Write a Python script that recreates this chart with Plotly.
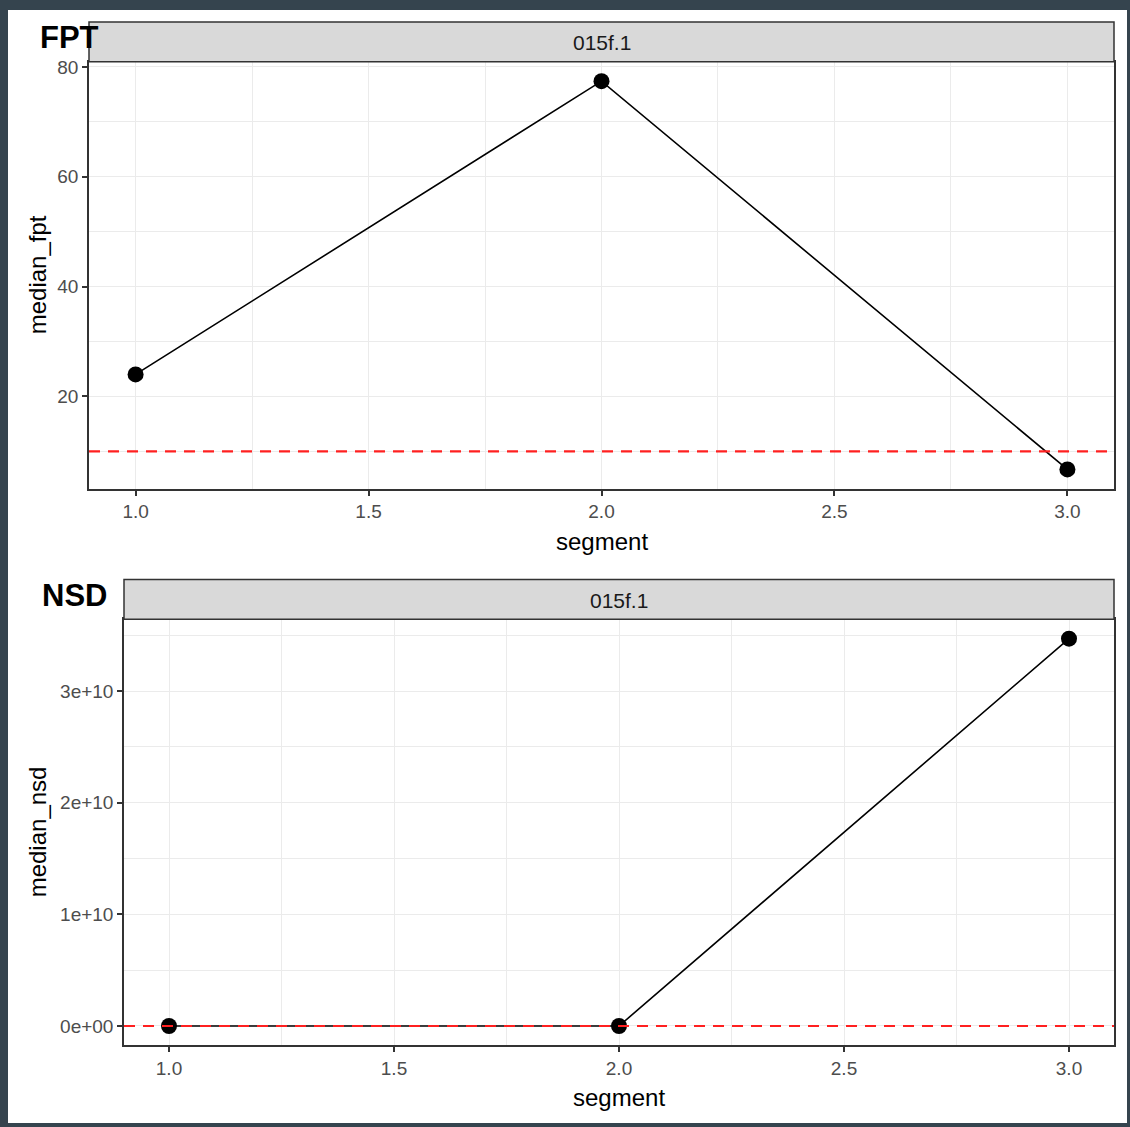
import plotly.graph_objects as go

# ---- data ----
segment = [1.0, 2.0, 3.0]
median_fpt = [24.0, 77.4, 6.7]
median_nsd = [0.0, 0.0, 3.47e10]
fpt_threshold = 10
nsd_threshold = 0
facet_label = "015f.1"
x_ticks = [1.0, 1.5, 2.0, 2.5, 3.0]
x_ticktext = ["1.0", "1.5", "2.0", "2.5", "3.0"]
fpt_ticks = [20, 40, 60, 80]
nsd_ticks = [0, 1e10, 2e10, 3e10]
nsd_ticktext = ["0e+00", "1e+10", "2e+10", "3e+10"]

W, H = 1130, 1127


def px(x):
    return x / W


def py(y):
    return 1 - y / H


def expand(vals, m=0.05):
    lo, hi = min(vals), max(vals)
    d = (hi - lo) * m
    return [lo - d, hi + d]


x_range = expand(segment)
fpt_range = expand(median_fpt + [fpt_threshold])
nsd_range = expand(median_nsd + [nsd_threshold])

FONT = "Liberation Sans, Arial, sans-serif"
GRID = "#ebebeb"
BORDER = "#333333"
TICKSIZE = 19
TITLESIZE = 24

fig = go.Figure()
fig.add_trace(go.Scatter(x=segment, y=median_fpt, mode="lines+markers",
                         line=dict(color="black", width=1.6),
                         marker=dict(color="black", size=16),
                         xaxis="x", yaxis="y", showlegend=False))
fig.add_trace(go.Scatter(x=segment, y=median_nsd, mode="lines+markers",
                         line=dict(color="black", width=1.6),
                         marker=dict(color="black", size=16),
                         xaxis="x2", yaxis="y2", showlegend=False))

common_x = dict(range=x_range, tickvals=x_ticks, ticktext=x_ticktext,
                showgrid=True, gridcolor=GRID, gridwidth=1.3,
                minor=dict(dtick=0.25, tick0=1.0, showgrid=True, gridcolor=GRID, gridwidth=0.8, ticklen=0),
                showline=True, mirror=True, linecolor=BORDER, linewidth=1.5,
                ticks="outside", ticklen=5, tickcolor=BORDER, tickwidth=1.5,
                tickfont=dict(family=FONT, size=TICKSIZE, color="#4d4d4d"),
                zeroline=False)
common_y = dict(showgrid=True, gridcolor=GRID, gridwidth=1.3,
                showline=True, mirror=True, linecolor=BORDER, linewidth=1.5,
                ticks="outside", ticklen=5, tickcolor=BORDER, tickwidth=1.5,
                tickfont=dict(family=FONT, size=TICKSIZE, color="#4d4d4d"),
                zeroline=False)

fig.update_layout(
    width=W, height=H,
    margin=dict(l=0, r=0, t=0, b=0),
    paper_bgcolor="#35444e",
    plot_bgcolor="white",
    xaxis=dict(domain=[px(89), px(1114)], anchor="y", **common_x),
    yaxis=dict(domain=[py(486), py(57)], anchor="x", range=fpt_range,
               tickvals=fpt_ticks,
               minor=dict(dtick=10, tick0=0, showgrid=True, gridcolor=GRID, gridwidth=0.8, ticklen=0),
               **common_y),
    xaxis2=dict(domain=[px(124), px(1114)], anchor="y2", **common_x),
    yaxis2=dict(domain=[py(1045), py(617)], anchor="x2", range=nsd_range,
                tickvals=nsd_ticks, ticktext=nsd_ticktext,
                minor=dict(dtick=5e9, tick0=0, showgrid=True, gridcolor=GRID, gridwidth=0.8, ticklen=0),
                **common_y),
)

shapes = [
    dict(type="rect", xref="paper", yref="paper", x0=px(8), x1=px(1127), y0=py(1123), y1=py(5),
         fillcolor="white", line=dict(width=0), layer="below"),
    # strips
    dict(type="rect", xref="x domain", yref="paper", x0=0, x1=1, y0=py(57), y1=py(17),
         fillcolor="#d9d9d9", line=dict(color=BORDER, width=1.5)),
    dict(type="rect", xref="x2 domain", yref="paper", x0=0, x1=1, y0=py(617), y1=py(577),
         fillcolor="#d9d9d9", line=dict(color=BORDER, width=1.5)),
    # thresholds
    dict(type="line", xref="x domain", yref="y", x0=0, x1=1, y0=fpt_threshold, y1=fpt_threshold,
         line=dict(color="#ff2020", width=2.2, dash="11px,8px")),
    dict(type="line", xref="x2 domain", yref="y2", x0=0, x1=1, y0=nsd_threshold, y1=nsd_threshold,
         line=dict(color="#ff2020", width=2.2, dash="11px,8px")),
]
fig.update_layout(shapes=shapes)

ann = [
    dict(text=facet_label, xref="x domain", yref="paper", x=0.5, y=py(38), showarrow=False,
         font=dict(family=FONT, size=21, color="#1a1a1a"), xanchor="center", yanchor="middle"),
    dict(text=facet_label, xref="x2 domain", yref="paper", x=0.5, y=py(598), showarrow=False,
         font=dict(family=FONT, size=21, color="#1a1a1a"), xanchor="center", yanchor="middle"),
    dict(text="<b>FPT</b>", xref="paper", yref="paper", x=px(38), y=py(33), showarrow=False,
         font=dict(family=FONT, size=31, color="black"), xanchor="left", yanchor="middle"),
    dict(text="<b>NSD</b>", xref="paper", yref="paper", x=px(40), y=py(593), showarrow=False,
         font=dict(family=FONT, size=31, color="black"), xanchor="left", yanchor="middle"),
    dict(text="median_fpt", xref="paper", yref="y domain", x=px(37), y=0.5, textangle=-90, showarrow=False,
         font=dict(family=FONT, size=TITLESIZE, color="black"), xanchor="center", yanchor="middle"),
    dict(text="median_nsd", xref="paper", yref="y2 domain", x=px(37), y=0.5, textangle=-90, showarrow=False,
         font=dict(family=FONT, size=TITLESIZE, color="black"), xanchor="center", yanchor="middle"),
    dict(text="segment", xref="x domain", yref="paper", x=0.5, y=py(539), showarrow=False,
         font=dict(family=FONT, size=TITLESIZE, color="black"), xanchor="center", yanchor="middle"),
    dict(text="segment", xref="x2 domain", yref="paper", x=0.5, y=py(1097), showarrow=False,
         font=dict(family=FONT, size=TITLESIZE, color="black"), xanchor="center", yanchor="middle"),
]
fig.update_layout(annotations=ann)

fig.write_html("out.html", config={"displayModeBar": False},
               post_script="document.body.style.margin='0';document.body.style.overflow='hidden';")
